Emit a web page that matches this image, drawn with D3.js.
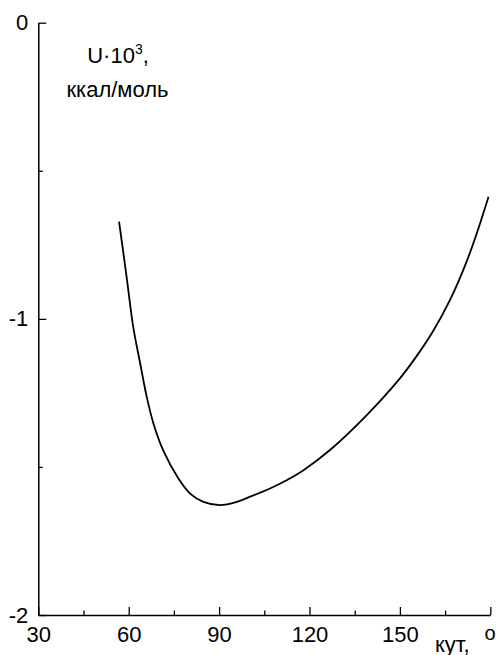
<!DOCTYPE html>
<html>
<head>
<meta charset="utf-8">
<script src="https://cdn.jsdelivr.net/npm/d3@7"></script>
<style>
  body { margin: 0; background: #fff; }
  svg text { font-family: "Liberation Sans", Arial, sans-serif; fill: #000; }
</style>
</head>
<body>
<div id="chart"></div>
<script>
// angle (degrees) and energy U*10^3 (kcal/mol)
var angle = [56.8, 59.3, 61.5, 63.8, 66.0, 68.2, 71.5, 76.5, 80.4, 84.8, 90.3, 95.9,
  101.4, 106.9, 112.4, 118.0, 126.8, 139.0, 150.0, 155.6, 161.1, 166.6, 172.2, 176.6, 179.4];
var energy = [-0.672, -0.858, -1.027, -1.150, -1.264, -1.353, -1.445, -1.539, -1.590, -1.618, -1.629, -1.618,
  -1.596, -1.573, -1.545, -1.511, -1.443, -1.325, -1.201, -1.125, -1.040, -0.937, -0.805, -0.678, -0.588];

var xTicks = [30, 60, 90, 120, 150, 180],
  xMinor = [45, 75, 105, 135, 165],
  yTicks = [0, -1, -2],
  yMinor = [-0.5, -1.5];

var width = 497, height = 655;
var margin = { top: 22.7, right: 6.7, bottom: 40, left: 38.3 };

var xScale = d3.scaleLinear().domain( [ 30, 180 ] ).range( [ margin.left, width - margin.right ] ),
  yScale = d3.scaleLinear().domain( [ -2, 0 ] ).range( [ height - margin.bottom, margin.top ] );

var svg = d3.select( '#chart' ).append( 'svg' )
  .attr( 'width', width )
  .attr( 'height', height );

// x axis, ticks pointing inward; last tick has no label
var gx = svg.append( 'g' )
  .attr( 'transform', 'translate(0,' + yScale( -2 ) + ')' )
  .call( d3.axisBottom( xScale ).tickValues( xTicks ).tickSize( -8 ).tickSizeOuter( 0 ).tickPadding( 11 )
    .tickFormat( d => d === 180 ? '' : String( d ) ) );
gx.append( 'g' )
  .call( d3.axisBottom( xScale ).tickValues( xMinor ).tickSize( -4.5 ).tickFormat( '' ) )
  .select( '.domain' ).remove();

// y axis
var gy = svg.append( 'g' )
  .attr( 'transform', 'translate(' + xScale( 30 ) + ',0)' )
  .call( d3.axisLeft( yScale ).tickValues( yTicks ).tickSize( -8 ).tickSizeOuter( 0 ).tickPadding( 10 )
    .tickFormat( d => String( d ) ) );
gy.append( 'g' )
  .call( d3.axisLeft( yScale ).tickValues( yMinor ).tickSize( -4.5 ).tickFormat( '' ) )
  .select( '.domain' ).remove();

svg.selectAll( '.domain' ).attr( 'stroke', '#000' ).attr( 'stroke-width', 1.5 );
svg.selectAll( '.tick line' ).attr( 'stroke', '#000' ).attr( 'stroke-width', 1.3 );
svg.selectAll( '.tick text' ).attr( 'font-size', 22 ).attr( 'font-family', '"Liberation Sans", Arial, sans-serif' );

// curve
var line = d3.line()
  .x( ( d, i ) => xScale( angle[ i ] ) )
  .y( ( d, i ) => yScale( energy[ i ] ) )
  .curve( d3.curveCatmullRom );

svg.append( 'path' )
  .datum( angle )
  .attr( 'd', line )
  .attr( 'fill', 'none' )
  .attr( 'stroke', '#000' )
  .attr( 'stroke-width', 1.8 );

// axis titles
var yTitle = svg.append( 'text' )
  .attr( 'x', 118 ).attr( 'y', 63.3 )
  .attr( 'text-anchor', 'middle' )
  .attr( 'font-size', 22 );
yTitle.append( 'tspan' ).text( 'U·10' );
yTitle.append( 'tspan' ).attr( 'font-size', 14 ).attr( 'dy', -9 ).text( '3' );
yTitle.append( 'tspan' ).attr( 'dy', 9 ).text( ',' );

svg.append( 'text' )
  .attr( 'x', 117.5 ).attr( 'y', 96.7 )
  .attr( 'text-anchor', 'middle' )
  .attr( 'font-size', 22 )
  .text( 'ккал/моль' );

svg.append( 'text' )
  .attr( 'x', 435 ).attr( 'y', 652 )
  .attr( 'font-size', 22 )
  .text( 'кут,' );

svg.append( 'text' )
  .attr( 'x', 490 ).attr( 'y', 640 )
  .attr( 'text-anchor', 'middle' )
  .attr( 'font-size', 20 )
  .text( 'o' );
</script>
</body>
</html>
